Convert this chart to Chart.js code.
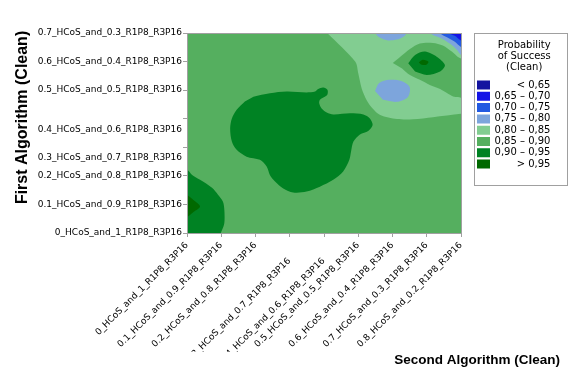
<!DOCTYPE html>
<html><head><meta charset="utf-8">
<script src="https://cdn.jsdelivr.net/npm/chart.js"></script>
<style>html,body{margin:0;padding:0;background:#fff}</style>
</head><body>
<canvas id="c" width="576" height="384"></canvas>
<script>
// ---- data ----
const levelLabels = ['< 0,65', '0,65 – 0,70', '0,70 – 0,75', '0,75 – 0,80', '0,80 – 0,85', '0,85 – 0,90', '0,90 – 0,95', '> 0,95'];
const levelColors = ['#1414A0', '#1414E6', '#235AE1', '#7DA5DC', '#82CD91', '#55AF5F', '#008223', '#006900'];
const xTickLabels = ['0_HCoS_and_1_R1P8_R3P16', '0.1_HCoS_and_0.9_R1P8_R3P16', '0.2_HCoS_and_0.8_R1P8_R3P16',
  '0.3_HCoS_and_0.7_R1P8_R3P16', '0.4_HCoS_and_0.6_R1P8_R3P16', '0.5_HCoS_and_0.5_R1P8_R3P16',
  '0.6_HCoS_and_0.4_R1P8_R3P16', '0.7_HCoS_and_0.3_R1P8_R3P16', '0.8_HCoS_and_0.2_R1P8_R3P16'];
const yTickValues = [0, 1, 2, 2.64, 3, 3.62, 4, 5, 6, 7];
const yTickLabels = ['0_HCoS_and_1_R1P8_R3P16', '0.1_HCoS_and_0.9_R1P8_R3P16', '0.2_HCoS_and_0.8_R1P8_R3P16',
  '0.3_HCoS_and_0.7_R1P8_R3P16', '', '0.4_HCoS_and_0.6_R1P8_R3P16', '', '0.5_HCoS_and_0.5_R1P8_R3P16',
  '0.6_HCoS_and_0.4_R1P8_R3P16', '0.7_HCoS_and_0.3_R1P8_R3P16'];
const xAxisTitle = 'Second Algorithm (Clean)';
const yAxisTitle = 'First Algorithm (Clean)';
const legendTitle = ['Probability', 'of Success', '(Clean)'];

// contour regions, in axis units (x: 0..8, y: 0..7); level = index into levelLabels
const regionField = [[-1, -1], [9, -1], [9, 8], [-1, 8]];
const regionUpperRight = [[3.94, 7.18], [4.91, 6.0], [5.0, 5.59], [5.10, 5.06], [5.25, 4.64], [5.42, 4.36], [5.64, 4.13],
  [6.13, 3.99], [6.6, 3.98], [7.18, 4.05], [8.0, 4.17], [8.3, 4.2], [8.3, 7.3], [3.9, 7.3]];
const regionTopPatch = [[5.43, 7.2], [5.49, 7.0], [5.64, 6.83], [5.87, 6.74], [6.13, 6.77], [6.31, 6.86], [6.42, 7.0], [6.48, 7.2]];
const regionOval = [[5.49, 4.97], [5.61, 5.25], [5.91, 5.36], [6.26, 5.32], [6.50, 5.11], [6.45, 4.76], [6.13, 4.59], [5.72, 4.66]];
const regionCorner75 = [[6.95, 7.3], [7.09, 7.0], [7.39, 6.83], [7.68, 6.62], [7.88, 6.41], [8.0, 6.23], [8.3, 6.1], [8.3, 7.3]];
const regionCorner70 = [[7.3, 7.3], [7.39, 7.0], [7.62, 6.83], [7.82, 6.69], [8.0, 6.51], [8.3, 6.4], [8.3, 7.3]];
const regionCorner65 = [[7.6, 7.3], [7.65, 7.0], [7.82, 6.90], [8.0, 6.74], [8.3, 6.65], [8.3, 7.3]];
const regionIsland = [[6.01, 5.95], [6.22, 6.16], [6.51, 6.44], [6.80, 6.63], [7.18, 6.65], [7.47, 6.56], [7.74, 6.34],
  [7.91, 6.16], [8.2, 5.95], [8.2, 4.73], [7.91, 4.76], [7.77, 4.78], [7.59, 4.90], [7.39, 5.04], [7.09, 5.18],
  [6.80, 5.36], [6.51, 5.53], [6.28, 5.76]];
const regionIslandHigh = [[6.46, 5.94], [6.66, 6.23], [6.95, 6.35], [7.29, 6.17], [7.53, 5.88], [7.39, 5.65], [7.00, 5.53], [6.66, 5.65]];
const regionIslandPeak = [[6.77, 5.97], [6.89, 6.06], [7.05, 5.99], [6.98, 5.88], [6.83, 5.90]];
const regionCentral = [[1.94, 4.77], [2.42, 4.89], [2.91, 4.95], [3.49, 4.92], [3.74, 4.95], [3.83, 5.04], [3.98, 5.09],
  [4.10, 5.01], [4.10, 4.85], [3.98, 4.74], [3.88, 4.66], [3.86, 4.54], [3.93, 4.36], [4.08, 4.22], [4.27, 4.15],
  [4.76, 4.19], [5.15, 4.15], [5.34, 4.01], [5.42, 3.78], [5.29, 3.57], [5.05, 3.45], [4.86, 3.20], [4.79, 2.85],
  [4.74, 2.56], [4.56, 2.15], [4.27, 1.86], [3.88, 1.62], [3.49, 1.45], [3.10, 1.42], [2.81, 1.56], [2.57, 1.80],
  [2.42, 2.03], [2.33, 2.32], [2.13, 2.56], [1.74, 2.67], [1.45, 2.91], [1.31, 3.20], [1.26, 3.66], [1.31, 4.01],
  [1.45, 4.31], [1.69, 4.60]];
const regionLowerLeft = [[-0.3, 2.25], [0, 2.21], [0.15, 2.03], [0.38, 1.86], [0.73, 1.58], [0.91, 1.33], [1.05, 1.09],
  [1.09, 0.81], [1.09, 0.35], [1.02, 0.10], [0.91, -0.12], [-0.3, -0.3]];
const regionLowerLeftPeak = [[-0.3, 1.4], [0, 1.33], [0.18, 1.16], [0.38, 0.93], [0.20, 0.74], [0, 0.56], [-0.3, 0.5]];

const contourRegions = [
  { level: 5, points: regionField },
  { level: 4, points: regionUpperRight },
  { level: 3, points: regionTopPatch },
  { level: 3, points: regionOval },
  { level: 3, points: regionCorner75 },
  { level: 2, points: regionCorner70 },
  { level: 1, points: regionCorner65 },
  { level: 5, points: regionIsland },
  { level: 6, points: regionIslandHigh },
  { level: 7, points: regionIslandPeak },
  { level: 6, points: regionCentral },
  { level: 6, points: regionLowerLeft },
  { level: 7, points: regionLowerLeftPeak }
];

// ---- chart ----
const GRAY = '#A0A0A0';
Chart.defaults.font.family = "'DejaVu Sans'";
Chart.defaults.color = '#000';

const frames = {
  id: 'frames',
  afterDatasetsDraw(chart) {
    const { ctx, chartArea: a } = chart;
    ctx.save();
    ctx.strokeStyle = GRAY; ctx.lineWidth = 1;
    ctx.strokeRect(Math.round(a.left) + 0.5, Math.round(a.top) + 0.5, Math.round(a.width), Math.round(a.height));
    ctx.restore();
  },
  afterDraw(chart) {
    const L = chart.legend, ctx = chart.ctx;
    ctx.save();
    ctx.strokeStyle = GRAY; ctx.lineWidth = 1;
    const x0 = Math.round(L.left) - 2 + 0.5, y0 = Math.round(L.top) + 0.5;
    ctx.strokeRect(x0, y0, Math.round(L.right) + 7 - Math.round(L.left) + 2, 152);
    ctx.restore();
  }
};

const N = contourRegions.length;
const datasets = contourRegions.map((r, i) => ({
  data: r.points.map(p => ({ x: p[0], y: p[1] })),
  backgroundColor: levelColors[r.level],
  borderColor: levelColors[r.level],
  borderWidth: 0,
  fill: 'shape',
  pointRadius: 0,
  tension: r.points.length <= 4 ? 0 : 0.3,
  order: N - i,
  xAxisID: 'x', yAxisID: 'y'
}));

const xTitleFont = { family: "'Liberation Sans'", size: 13.5, weight: 'bold', lineHeight: 1.2 };
const yTitleFont = { family: "'Liberation Sans'", size: 16, weight: 'bold', lineHeight: 1.2 };

new Chart(document.getElementById('c'), {
  type: 'line',
  data: { datasets },
  plugins: [frames],
  options: {
    responsive: false,
    animation: false,
    events: [],
    layout: { padding: { left: 0, right: 16, top: 33, bottom: 16 } },
    elements: { line: { capBezierPoints: false }, point: { radius: 0 } },
    scales: {
      x: {
        type: 'linear', min: 0, max: 8, position: 'bottom', z: 1,
        afterBuildTicks: s => { s.ticks = xTickLabels.map((_, i) => ({ value: i })); },
        afterFit: s => { s.height = 118.8; },
        ticks: {
          autoSkip: false, minRotation: 45, maxRotation: 45, padding: 3, font: { size: 9 }, color: '#000',
          callback: (v) => {
            const i = Math.round(v);
            const t = xTickLabels[i];
            return (i === 3 || i === 4) ? ['', t + '    '] : t;
          }
        },
        grid: { drawOnChartArea: false, tickLength: 4, tickColor: GRAY },
        border: { color: GRAY }
      },
      y: {
        type: 'linear', min: 0, max: 7, position: 'left', z: 1,
        afterBuildTicks: s => { s.ticks = yTickValues.map(v => ({ value: v })); },
        afterFit: s => { s.width = 187; },
        ticks: {
          autoSkip: false, padding: 1, font: { size: 9 }, color: '#000',
          callback: (v, i) => yTickLabels[i]
        },
        grid: {
          drawOnChartArea: false, tickLength: 4,
          tickColor: c => (c.tick && Number.isInteger(c.tick.value)) ? GRAY : 'rgba(0,0,0,0)'
        },
        border: { color: GRAY },
        title: { display: true, text: '       ' + yAxisTitle, color: '#000', font: yTitleFont, padding: { top: 13, bottom: 0 } }
      },
      ySpacer: {
        type: 'linear', position: 'right', min: 0, max: 1,
        grid: { display: false, drawTicks: false }, ticks: { display: false }, border: { display: false },
        afterFit: s => { s.width = 14.7; }
      }
    },
    plugins: {
      tooltip: { enabled: false },
      legend: {
        position: 'right', align: 'start', fullSize: false, maxWidth: 84.3,
        onClick: () => {},
        title: {
          display: true, position: 'center', color: '#000',
          text: legendTitle.map(t => '    ' + t),
          font: { size: 10, lineHeight: 1.1 }, padding: { top: 7.7, bottom: 27 }
        },
        labels: {
          boxWidth: 13, boxHeight: 9, padding: 1.3, textAlign: 'right', color: '#000', font: { size: 10 },
          generateLabels: () => levelLabels.map((t, i) => ({
            text: t + '   ', fillStyle: levelColors[i], strokeStyle: levelColors[i], lineWidth: 0, hidden: false, index: i
          }))
        }
      },
      title: {
        display: true, text: xAxisTitle, position: 'bottom', align: 'end', color: '#000',
        font: xTitleFont, padding: 0
      }
    }
  }
});
</script>
</body></html>
